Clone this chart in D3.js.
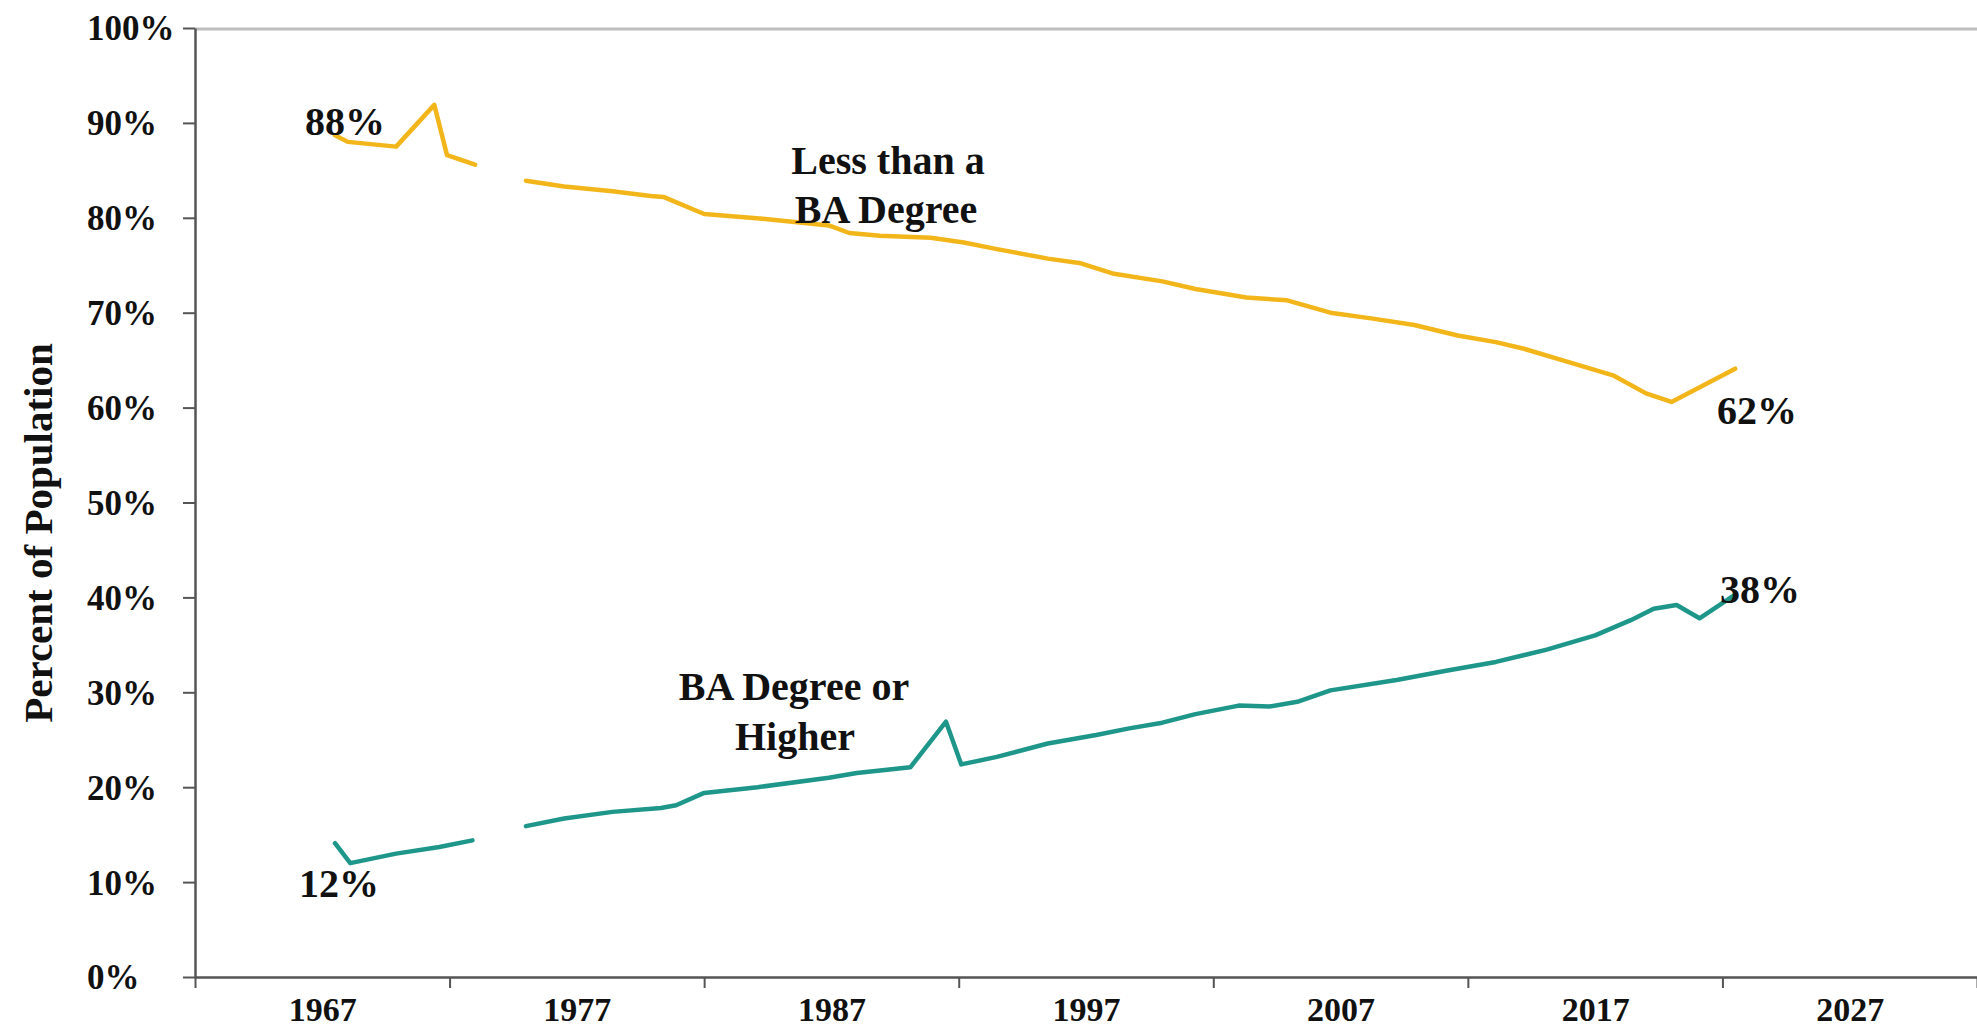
<!DOCTYPE html>
<html>
<head>
<meta charset="utf-8">
<script src="https://cdn.jsdelivr.net/npm/d3@7"></script>
<style>
  html, body { margin: 0; padding: 0; background: #fff; }
  svg { display: block; }
  text { font-family: 'Liberation Serif', 'Times New Roman', serif; font-weight: bold; fill: #111; }
</style>
</head>
<body>
<div id="chart"></div>
<script>
// ── data ──────────────────────────────────────────────
// years are positions along the time axis (a few points sit between whole years)
const lessYears = [1967.0, 1967.5, 1969.4, 1970.9, 1971.4, 1972.5, 1973.5, 1974.5, 1976.0, 1977.9,
  1979.4, 1979.9, 1981.5, 1983.8, 1986.4, 1987.2, 1988.4, 1990.4, 1991.7, 1993.0,
  1995.0, 1996.3, 1997.6, 1999.5, 2000.8, 2002.8, 2004.4, 2006.1, 2007.7, 2009.4,
  2011.1, 2012.6, 2013.7, 2015.2, 2017.2, 2018.5, 2019.5, 2022.0];
const lessPct = [88.7, 88.0, 87.5, 91.9, 86.6, 85.6, null, 83.9, 83.3, 82.8,
  82.3, 82.2, 80.4, 79.9, 79.2, 78.4, 78.1, 77.9, 77.4, 76.7,
  75.7, 75.2, 74.1, 73.3, 72.5, 71.6, 71.3, 70.0, 69.4, 68.7,
  67.6, 66.9, 66.2, 65.0, 63.4, 61.5, 60.6, 64.1];

const baYears = [1967.0, 1967.6, 1969.4, 1971.1, 1972.4, 1973.5, 1974.5, 1976.0, 1977.9, 1979.8,
  1980.4, 1981.5, 1983.6, 1986.4, 1987.5, 1989.6, 1991.0, 1991.6, 1993.0, 1995.0,
  1996.9, 1998.2, 1999.5, 2000.8, 2002.5, 2003.7, 2004.8, 2006.1, 2008.7, 2010.7,
  2012.6, 2014.6, 2016.5, 2017.9, 2018.8, 2019.7, 2020.6, 2022.0];
const baPct = [14.1, 12.0, 13.0, 13.7, 14.4, null, 15.9, 16.7, 17.4, 17.8,
  18.1, 19.4, 20.0, 21.0, 21.5, 22.1, 26.9, 22.4, 23.2, 24.6,
  25.5, 26.2, 26.8, 27.7, 28.6, 28.5, 29.0, 30.2, 31.3, 32.3,
  33.2, 34.5, 36.0, 37.6, 38.8, 39.2, 37.8, 40.3];

const yTicks = [0, 0.1, 0.2, 0.3, 0.4, 0.5, 0.6, 0.7, 0.8, 0.9, 1.0];
const xTickMarks = [1962, 1972, 1982, 1992, 2002, 2012, 2022, 2032];
const xTickLabels = [1967, 1977, 1987, 1997, 2007, 2017, 2027];

const COLOR = { less: '#F2B61B', ba: '#1E978A', axis: '#555', top: '#BDBDBD' };

// ── layout ────────────────────────────────────────────
const W = 1977, H = 1030;
const plot = { left: 195, right: 1977, top: 28, bottom: 977 };

const svg = d3.select('#chart').append('svg')
  .attr('width', W).attr('height', H);

const x = d3.scaleLinear().domain([1962, 2032]).range([plot.left, plot.right]);
const y = d3.scaleLinear().domain([0, 1]).range([plot.bottom, plot.top]);
// each year sits at the middle of its slot
const xPos = yr => x(yr + 0.5);

// ── axes ──────────────────────────────────────────────
svg.append('line')
  .attr('x1', plot.left).attr('x2', plot.right)
  .attr('y1', y(1) + 1).attr('y2', y(1) + 1)
  .attr('stroke', COLOR.top).attr('stroke-width', 3);

const yAxis = svg.append('g')
  .attr('transform', `translate(${plot.left},0)`)
  .call(d3.axisLeft(y).tickValues(yTicks).tickFormat(d3.format('.0%')).tickSize(12).tickSizeOuter(0));
yAxis.select('.domain').attr('stroke', COLOR.axis).attr('stroke-width', 2.5);
yAxis.selectAll('.tick line').attr('stroke', COLOR.axis).attr('stroke-width', 2);
yAxis.selectAll('.tick text')
  .attr('text-anchor', 'start')
  .attr('x', 87 - plot.left)
  .attr('dy', '0.34em')
  .style('font-size', '35px')
  .style('font-family', "'Liberation Serif', serif")
  .style('font-weight', 'bold')
  .attr('fill', '#111');

const xAxis = svg.append('g')
  .attr('transform', `translate(0,${plot.bottom})`)
  .call(d3.axisBottom(x).tickValues(xTickMarks).tickFormat('').tickSize(11).tickSizeOuter(0));
xAxis.select('.domain').attr('stroke', COLOR.axis).attr('stroke-width', 2.5);
xAxis.selectAll('.tick line').attr('stroke', COLOR.axis).attr('stroke-width', 2);

const xLabels = svg.append('g')
  .attr('transform', `translate(0,${plot.bottom})`)
  .call(d3.axisBottom(x).tickValues(xTickLabels).tickFormat(d3.format('d')).tickSize(0));
xLabels.select('.domain').remove();
xLabels.selectAll('.tick text')
  .attr('y', 44).attr('dy', 0)
  .style('font-size', '34px')
  .style('font-family', "'Liberation Serif', serif")
  .style('font-weight', 'bold')
  .attr('fill', '#111');

// ── lines ─────────────────────────────────────────────
const line = d3.line()
  .defined(d => d.v != null)
  .x(d => xPos(d.yr))
  .y(d => y(d.v / 100));

const series = [
  { key: 'less', data: lessYears.map((yr, i) => ({ yr, v: lessPct[i] })) },
  { key: 'ba', data: baYears.map((yr, i) => ({ yr, v: baPct[i] })) },
];

svg.selectAll('path.series')
  .data(series)
  .join('path')
  .attr('class', 'series')
  .attr('d', d => line(d.data))
  .attr('fill', 'none')
  .attr('stroke', d => COLOR[d.key])
  .attr('stroke-width', 4.5)
  .attr('stroke-linejoin', 'round')
  .attr('stroke-linecap', 'round');

// ── labels ────────────────────────────────────────────
const labels = [
  { t: '88%', x: 345, y: 135, anchor: 'middle' },
  { t: '62%', x: 1717, y: 424, anchor: 'start' },
  { t: '38%', x: 1720, y: 603, anchor: 'start' },
  { t: '12%', x: 299, y: 897, anchor: 'start' },
  { t: 'Less than a', x: 888, y: 174, anchor: 'middle' },
  { t: 'BA Degree', x: 886, y: 223, anchor: 'middle' },
  { t: 'BA Degree or', x: 794, y: 700, anchor: 'middle' },
  { t: 'Higher', x: 795, y: 750, anchor: 'middle' },
];

svg.selectAll('text.note')
  .data(labels)
  .join('text')
  .attr('class', 'note')
  .attr('x', d => d.x).attr('y', d => d.y)
  .attr('text-anchor', d => d.anchor)
  .style('font-size', '40px')
  .text(d => d.t);

svg.append('text')
  .attr('transform', 'translate(38,533) rotate(-90)')
  .attr('text-anchor', 'middle')
  .attr('dy', '0.34em')
  .style('font-size', '41px')
  .text('Percent of Population');
</script>
</body>
</html>
